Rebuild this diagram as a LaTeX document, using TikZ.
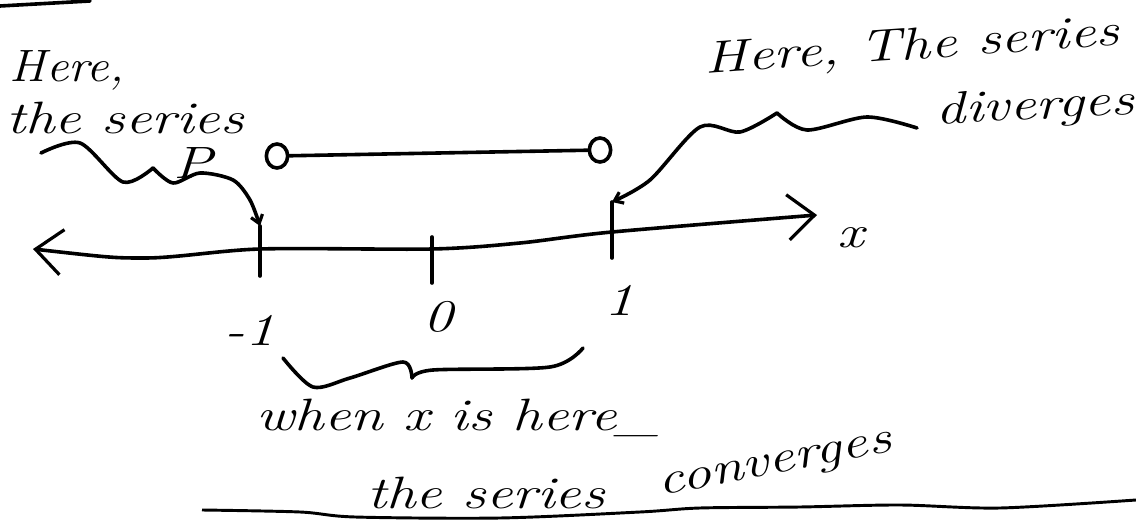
\documentclass[tikz,border=0pt]{standalone}
\usetikzlibrary{arrows.meta,shapes.geometric}
\begin{document}
\begin{tikzpicture}[x=0.75pt,y=-0.75pt,
  ink/.style={line width=2.7pt,line cap=round,line join=round},
  handfont/.style={font=\fontsize{34}{38}\selectfont\itshape,inner sep=0pt},
  hand/.style={handfont,xscale=1.3},
  tip/.style={-{Straight Barb[length=6pt,width=9pt,line width=2.4pt]}},
  openpt/.style={draw,ellipse,line width=2.7pt,minimum width=16pt,minimum height=18pt,inner sep=0pt}]
\useasboundingbox (0,0) rectangle (1136,527);
% top-left stroke
\coordinate (tl1) at (0,6);
\coordinate (tl2) at (90,1);
\draw[ink] (tl1) -- (tl2);
% axis
\coordinate (axL) at (33,249);
\coordinate (axR) at (817,215);
\draw[ink,{Straight Barb[length=20pt,width=34pt,line width=2.4pt]}-{Straight Barb[length=20pt,width=34pt,line width=2.4pt]}]
  plot[smooth] coordinates {(axL) (145,258) (260,249) (432,249) (520,243) (612,232) (axR)};
% ticks
\coordinate (tm1t) at (260,226); \coordinate (tm1b) at (260,276);
\coordinate (t0t) at (432,237);  \coordinate (t0b) at (432,283);
\coordinate (t1t) at (612,202);  \coordinate (t1b) at (612,258);
\draw[ink] (tm1t) -- (tm1b);
\draw[ink] (t0t) -- (t0b);
\draw[ink] (t1t) -- (t1b);
% tick labels
\node[hand] (lm1) at (250,330) {-1};
\node[hand] (l0) at (438,317) {0};
\node[hand] (l1) at (619,300) {1};
\node[hand] (lx) at (851,238) {x};
% open interval
\node[openpt] (oL) at (277,156) {};
\node[openpt] (oR) at (600,150) {};
\draw[ink] (oL) -- (oR);
% left annotation
\node[handfont,xscale=1.1] (here1) at (67,70) {Here,};
\node[hand] (ser1) at (125,118) {the series};
\node[hand] (P) at (193,163) {P};
\draw[ink] plot[smooth] coordinates {(41,153) (80,143) (123,182) (153,168)};
\draw[ink,tip] plot[smooth] coordinates {(153,168) (173,183) (200,173) (233,180) (250,200) (tm1t)};
% right annotation
\node[handfont,rotate=4,xscale=1.3] (here2) at (912,48) {Here, The series};
\node[handfont,rotate=3,xscale=1.3] (div) at (1035,108) {diverges};
\draw[ink] plot[smooth] coordinates {(917,128) (867,117) (807,130) (777,113)};
\draw[ink,tip] plot[smooth] coordinates {(777,113) (740,132) (700,127) (650,180) (t1t)};
% bottom annotation
\draw[ink] plot[smooth] coordinates {(283,358) (313,387) (350,378) (403,362) (412,378)};
\draw[ink] plot[smooth] coordinates {(412,378) (433,370) (550,367) (583,348)};
\node[hand] (when) at (458,418) {when x is here\_};
\node[handfont,xscale=1.3] (ts) at (486,493) {the series};
\node[handfont,rotate=11,xscale=1.3] (conv) at (776,468) {converges};
\coordinate (ul1) at (202,510);
\coordinate (ul2) at (1136,500);
\draw[line width=2.2pt] plot[smooth] coordinates {(ul1) (300,512) (355,517) (500,518) (640,512) (700,508) (800,507) (900,505) (1000,508) (ul2)};
\end{tikzpicture}
\end{document}
